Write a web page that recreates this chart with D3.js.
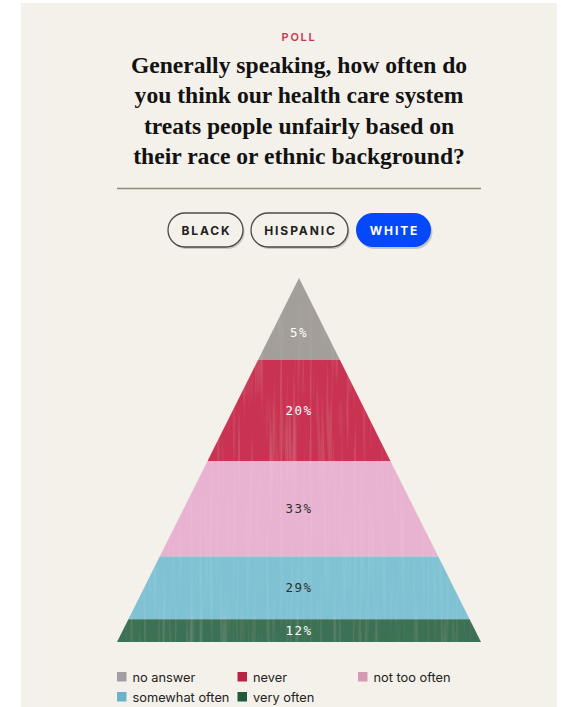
<!DOCTYPE html>
<html>
<head>
<meta charset="utf-8">
<script src="https://cdn.jsdelivr.net/npm/d3@7"></script>
<style>
  html, body { margin: 0; padding: 0; background: #ffffff; }
  svg { display: block; }
</style>
</head>
<body>
<svg id="chart" width="561" height="707"></svg>
<script>
// Poll answers, top of the pyramid first
const categories = ["no answer", "never", "not too often", "somewhat often", "very often"];
const values = [5, 20, 33, 29, 12];
const valueLabels = ["5%", "20%", "33%", "29%", "12%"];
const fillColors = ["#a39e99", "#c93353", "#e8b3d0", "#80c2d4", "#3e7155"];
const legendColors = ["#a19f9f", "#b8243f", "#d59bb2", "#6cb3ca", "#1f5a3d"];
const labelColors = ["#ffffff", "#ffffff", "#2e2e2e", "#2e2e2e", "#ffffff"];
const groups = ["BLACK", "HISPANIC", "WHITE"];
const activeGroup = "WHITE";
const titleLines = [
  "Generally speaking, how often do",
  "you think our health care system",
  "treats people unfairly based on",
  "their race or ethnic background?"
];

const svg = d3.select("#chart");
const cx = 299;

// card background
svg.append("rect").attr("x", 21).attr("y", 3).attr("width", 536).attr("height", 704).attr("fill", "#f4f1ea");

// faint vertical streak texture for the bands
const defs = svg.append("defs");
const f = defs.append("filter").attr("id", "grain").attr("x", 0).attr("y", 0).attr("width", 1).attr("height", 1);
f.append("feTurbulence").attr("type", "fractalNoise").attr("baseFrequency", "0.3 0.01").attr("numOctaves", 2).attr("seed", 4).attr("result", "noise");
f.append("feColorMatrix").attr("in", "noise").attr("type", "matrix")
  .attr("values", "0 0 0 0 1  0 0 0 0 1  0 0 0 0 1  0 0 0 1.2 -0.6").attr("result", "streaks");
f.append("feComposite").attr("in", "streaks").attr("in2", "SourceGraphic").attr("operator", "in").attr("result", "clipped");
f.append("feComponentTransfer").attr("in", "clipped").attr("result", "soft")
  .append("feFuncA").attr("type", "linear").attr("slope", 0.16);
const m = f.append("feMerge");
m.append("feMergeNode").attr("in", "SourceGraphic");
m.append("feMergeNode").attr("in", "soft");

// header
svg.append("text").attr("x", cx).attr("y", 41).attr("text-anchor", "middle")
  .attr("font-family", "Inter, 'DejaVu Sans', sans-serif").attr("font-weight", 600)
  .attr("font-size", 11).attr("letter-spacing", "1.7px").attr("fill", "#c8374f").text("POLL");

svg.append("g").selectAll("text").data(titleLines).join("text")
  .attr("x", cx).attr("y", (d, i) => 73 + i * 30.3).attr("text-anchor", "middle")
  .attr("font-family", "'Liberation Serif', 'DejaVu Serif', serif").attr("font-weight", 700)
  .attr("font-size", 23.6).attr("fill", "#121212").text(d => d);

svg.append("line").attr("x1", 117).attr("x2", 481).attr("y1", 188.5).attr("y2", 188.5)
  .attr("stroke", "#8f8b79").attr("stroke-width", 1.6);

// group toggle buttons
const btnWidths = { "BLACK": 75, "HISPANIC": 97, "WHITE": 75 };
const gap = 8;
const totalW = groups.reduce((s, g) => s + btnWidths[g], 0) + gap * (groups.length - 1);
let bx = cx - totalW / 2 + 0.5;
groups.forEach(g => {
  const w = btnWidths[g];
  const active = g === activeGroup;
  const b = svg.append("g").attr("transform", `translate(${bx},213)`);
  b.append("rect").attr("x", 1.5).attr("y", 2).attr("width", w).attr("height", 34).attr("rx", 17)
    .attr("fill", "rgba(0,0,0,0.18)");
  b.append("rect").attr("width", w).attr("height", 34).attr("rx", 17)
    .attr("fill", active ? "#0348fa" : "#f4f1ea")
    .attr("stroke", active ? "none" : "#4a4a48").attr("stroke-width", 1.3);
  b.append("text").attr("x", w / 2 + 1).attr("y", 21.5).attr("text-anchor", "middle")
    .attr("font-family", "Inter, 'DejaVu Sans', sans-serif").attr("font-weight", 700)
    .attr("font-size", 12).attr("letter-spacing", "1.9px")
    .attr("fill", active ? "#ffffff" : "#222222").text(g);
  bx += w + gap;
});

// pyramid: each band's area is proportional to its share
const total = d3.sum(values);
const apexY = 278, baseY = 642, halfBase = 182;
const y = d3.scaleSqrt().domain([0, total]).range([apexY, baseY]);
const half = d3.scaleLinear().domain([apexY, baseY]).range([0, halfBase]);
const cum = d3.cumsum(values);
const bands = values.map((v, i) => ({
  i, v, label: valueLabels[i],
  y0: y(i === 0 ? 0 : cum[i - 1]), y1: y(cum[i])
}));

const line = d3.line();
const pg = svg.append("g").attr("filter", "url(#grain)");
pg.selectAll("path").data(bands).join("path")
  .attr("d", d => line([
    [cx - half(d.y0), d.y0], [cx + half(d.y0), d.y0],
    [cx + half(d.y1), d.y1], [cx - half(d.y1), d.y1]
  ]) + "Z")
  .attr("fill", d => fillColors[d.i]);

svg.append("g").selectAll("text").data(bands).join("text")
  .attr("x", cx)
  .attr("y", d => (d.i === 0 ? d.y0 + (d.y1 - d.y0) * 2 / 3 : (d.y0 + d.y1) / 2) + 4.5)
  .attr("text-anchor", "middle")
  .attr("font-family", "'DejaVu Sans Mono', monospace").attr("font-size", 12.5)
  .attr("letter-spacing", "1.4px")
  .attr("fill", d => labelColors[d.i]).text(d => d.label);

// legend
const lg = svg.append("g").attr("transform", "translate(117,672)");
categories.forEach((c, i) => {
  const col = i % 3, row = Math.floor(i / 3);
  const g = lg.append("g").attr("transform", `translate(${col * 120.5},${row * 20})`);
  g.append("rect").attr("width", 9.5).attr("height", 9.5).attr("fill", legendColors[i]);
  g.append("text").attr("x", 15.5).attr("y", 10).attr("font-family", "Inter, 'DejaVu Sans', sans-serif")
    .attr("font-size", 12.8).attr("fill", "#222222").text(c);
});
</script>
</body>
</html>
